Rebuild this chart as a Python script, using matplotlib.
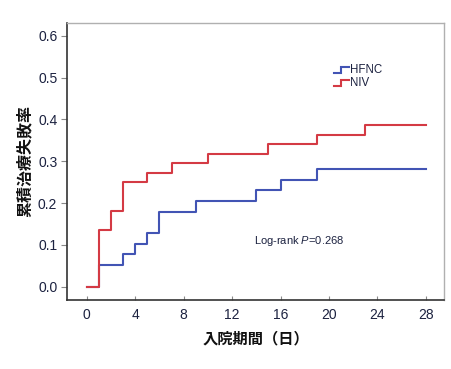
import matplotlib
matplotlib.use("Agg")
import matplotlib.pyplot as plt

plt.rcParams['font.family'] = ['Liberation Sans', 'Noto Sans CJK JP', 'DejaVu Sans']
plt.rcParams['mathtext.fontset'] = 'custom'
plt.rcParams['mathtext.rm'] = 'Liberation Sans'
plt.rcParams['mathtext.it'] = 'Liberation Sans:italic'

# Data
hfnc_days = [0, 1, 3, 4, 5, 6, 9, 14, 16, 19, 28]
hfnc_vals = [0.0, 0.051, 0.077, 0.103, 0.128, 0.179, 0.205, 0.231, 0.256, 0.282, 0.282]
niv_days = [0, 1, 2, 3, 5, 7, 10, 15, 19, 23, 28]
niv_vals = [0.0, 0.136, 0.182, 0.250, 0.273, 0.295, 0.318, 0.341, 0.364, 0.386, 0.386]
x_ticks = [0, 4, 8, 12, 16, 20, 24, 28]
y_ticks = [0.0, 0.1, 0.2, 0.3, 0.4, 0.5, 0.6]
series_names = ["HFNC", "NIV"]
x_label = "入院期間（日）"
y_label = "累積治療失敗率"
annot = "Log-rank $P$=0.268"

blue = "#4254b4"
red = "#d43a44"
txt = "#1c2240"

fig = plt.figure(figsize=(4.52, 3.69), dpi=100)
ax = fig.add_axes([67/452, 1-300/369, 377/452, 277.5/369])

ax.step(hfnc_days, hfnc_vals, where='post', color=blue, lw=1.5)
ax.step(niv_days, niv_vals, where='post', color=red, lw=1.5)

ax.set_xlim(-1.63, 29.5)
ax.set_ylim(-0.032, 0.632)
ax.set_xticks(x_ticks)
ax.set_yticks(y_ticks)
ax.set_yticklabels([f"{v:.1f}" for v in y_ticks])

ax.tick_params(axis='x', direction='in', length=3, width=0.8, color='#888888',
               labelsize=10, labelcolor=txt, pad=6)
ax.tick_params(axis='y', direction='out', length=4, width=0.8, color='#888888',
               labelsize=10, labelcolor=txt, pad=3)

for s in ['left', 'bottom']:
    ax.spines[s].set_color('#333333')
    ax.spines[s].set_linewidth(1.2)
for s in ['top', 'right']:
    ax.spines[s].set_color('#b0b0b0')
    ax.spines[s].set_linewidth(1.0)

ax.set_xlabel(x_label, fontsize=11, fontweight='bold', color='#111111',
              family=['Noto Sans CJK JP', 'DejaVu Sans'], labelpad=6)
ax.set_ylabel(y_label, fontsize=11.5, fontweight='bold', color='#111111',
              family=['Noto Sans CJK JP', 'DejaVu Sans'], labelpad=4)

# legend drawn manually (step-shaped handles)
colors = [blue, red]
ys = [0.829, 0.782]
for name, c, yy in zip(series_names, colors, ys):
    ax.plot([0.708, 0.728, 0.728, 0.748], [yy - 0.011, yy - 0.011, yy + 0.011, yy + 0.011],
            transform=ax.transAxes, color=c, lw=1.5, solid_joinstyle='miter')
    ax.text(0.751, yy, name, transform=ax.transAxes, fontsize=8.3, color=txt,
            va='center', ha='left')

ax.text(13.8, 0.110, annot, fontsize=8, color=txt, va='center', ha='left')

fig.savefig("out.png", dpi=100)
